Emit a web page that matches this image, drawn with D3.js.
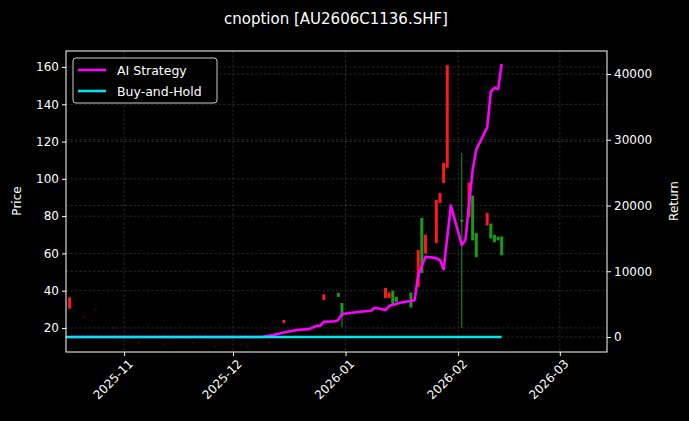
<!DOCTYPE html>
<html><head><meta charset="utf-8">
<script src="https://cdn.jsdelivr.net/npm/d3@7"></script>
<style>body{margin:0;background:#000}svg{font-family:"DejaVu Sans",sans-serif}</style>
</head><body><svg id="c" width="689" height="421"></svg>
<script>
// candles
const candleDates = ["2025-10-17","2025-12-15","2025-12-26","2025-12-30","2025-12-31","2026-01-12","2026-01-13","2026-01-14","2026-01-15","2026-01-19","2026-01-21","2026-01-22","2026-01-23","2026-01-26","2026-01-27","2026-01-28","2026-01-29","2026-02-02","2026-02-04","2026-02-05","2026-02-06","2026-02-09","2026-02-10","2026-02-11","2026-02-12","2026-02-13"];
const opens  = [30.4,22.7,35,38.8,33.4,36,36,40,36.7,39,42,79,60,65.6,87,97.8,106,78,79.6,91,71,75,76,70,69,69];
const closes = [36.4,24.3,38,36.7,26,41.5,39,33,34,31,61.8,49.5,70,88.7,92.4,108.5,161,77,98,67,58,81.6,68,66,67,59];
const highs  = [36.4,24.3,38,38.8,33.4,41.5,39,40,36.7,39,61.8,79,70,88.7,92.4,108.5,161,114,98,91,71,81.6,76,70,69,69];
const lows   = [30.4,22.7,35,36.7,20.5,36,36,33,34,31,42,49.5,60,65.6,87,97.8,106,20,79.6,67,58,75,68,66,67,59];
// faint small candles near the floor
const faintDates = ["2025-10-21","2025-10-24","2025-10-29","2025-11-05","2025-11-12","2025-11-20","2025-11-26","2025-12-03","2025-12-05","2025-12-11"];
const faintPrices = [26,30,20,12,11,12,10,11,10,12];
// strategy returns
const stratDates = ["2025-10-17","2025-12-09","2025-12-10","2025-12-12","2025-12-16","2025-12-19","2025-12-22","2025-12-24","2025-12-25","2025-12-26","2025-12-29","2025-12-30","2025-12-31","2026-01-05","2026-01-08","2026-01-09","2026-01-12","2026-01-13","2026-01-16","2026-01-20","2026-01-21","2026-01-23","2026-01-26","2026-01-27","2026-01-28","2026-01-30","2026-02-02","2026-02-03","2026-02-05","2026-02-06","2026-02-09","2026-02-10","2026-02-11","2026-02-12","2026-02-13"];
const stratValues = [0,0,100,300,800,1100,1200,1700,1700,2300,2400,2600,3500,3850,4000,4450,4100,4700,5200,5600,9400,12200,12000,11700,10300,20000,14000,14750,25400,28500,31900,37300,37900,37700,41500];
const holdDates = ["2025-10-16","2026-02-13"];
const holdValues = [0,0];
const priceTicks = [20,40,60,80,100,120,140,160];
const returnTicks = [0,10000,20000,30000,40000];
const monthTicks = ["2025-11-01","2025-12-01","2026-01-01","2026-02-01","2026-03-01"];

const P = d3.timeParse("%Y-%m-%d");
const svg = d3.select("#c");
const L = 66, R = 607, T = 51, B = 352;
const x = d3.scaleTime().domain([P("2025-10-16"), P("2026-03-14")]).range([L, R]);
const y = d3.scaleLinear().domain([7.1, 168.6]).range([B, T]);
const y2 = d3.scaleLinear().domain([-2280, 43500]).range([B, T]);

const grid = svg.append("g").attr("stroke", "#444").attr("stroke-width", 0.6).attr("stroke-dasharray", "2.5,2");
priceTicks.forEach(t => grid.append("line").attr("x1", L).attr("x2", R).attr("y1", y(t)).attr("y2", y(t)));
returnTicks.forEach(t => grid.append("line").attr("x1", L).attr("x2", R).attr("y1", y2(t)).attr("y2", y2(t)));
monthTicks.forEach(t => grid.append("line").attr("y1", T).attr("y2", B).attr("x1", x(P(t))).attr("x2", x(P(t))));

const cg = svg.append("g");
faintDates.forEach((d, i) => cg.append("rect").attr("x", x(P(d)) - 1.5).attr("width", 3)
  .attr("y", y(faintPrices[i]) - 1).attr("height", 2).attr("fill", "#a00").attr("opacity", 0.35));
candleDates.forEach((d, i) => {
  const cx = x(P(d)), col = closes[i] >= opens[i] ? "#ff1a1a" : "#1a9a1a";
  cg.append("line").attr("x1", cx).attr("x2", cx).attr("y1", y(highs[i])).attr("y2", y(lows[i])).attr("stroke", col).attr("stroke-width", 1);
  const top = y(Math.max(opens[i], closes[i])), bot = y(Math.min(opens[i], closes[i]));
  cg.append("rect").attr("x", cx - 1.5).attr("width", 3).attr("y", top).attr("height", Math.max(1, bot - top)).attr("fill", col);
});

const line = d3.line().x(d => x(P(d[0]))).y(d => y2(d[1]));
svg.append("path").attr("d", line(stratDates.map((d, i) => [d, stratValues[i]]))).attr("fill", "none").attr("stroke", "#ff00ff").attr("stroke-width", 2.6).attr("stroke-linejoin", "round");
svg.append("path").attr("d", line(holdDates.map((d, i) => [d, holdValues[i]]))).attr("fill", "none").attr("stroke", "#00e5ee").attr("stroke-width", 2.6);

svg.append("rect").attr("x", L).attr("y", T).attr("width", R - L).attr("height", B - T).attr("fill", "none").attr("stroke", "#fff").attr("stroke-width", 1);

const ax = svg.append("g").attr("transform", `translate(0,${B})`)
  .call(d3.axisBottom(x).tickValues(monthTicks.map(P)).tickFormat(d3.timeFormat("%Y-%m")).tickSize(4));
ax.selectAll("text").attr("transform", "rotate(-45)").attr("text-anchor", "end").attr("dx", "-0.2em").attr("dy", "0.7em");
const ay = svg.append("g").attr("transform", `translate(${L},0)`).call(d3.axisLeft(y).tickValues(priceTicks).tickSize(4));
const ay2 = svg.append("g").attr("transform", `translate(${R},0)`).call(d3.axisRight(y2).tickValues(returnTicks).tickFormat(d3.format("d")).tickSize(4));
[ax, ay, ay2].forEach(g => {
  g.select(".domain").remove();
  g.selectAll("line").attr("stroke", "#fff");
  g.selectAll("text").attr("fill", "#fff").attr("font-size", 12).attr("font-family", "DejaVu Sans");
});

svg.append("text").attr("x", 336).attr("y", 24).attr("text-anchor", "middle").attr("fill", "#fff").attr("font-size", 15).text("cnoption [AU2606C1136.SHF]");
svg.append("text").attr("transform", "translate(21,201) rotate(-90)").attr("text-anchor", "middle").attr("fill", "#fff").attr("font-size", 12).text("Price");
svg.append("text").attr("transform", "translate(678,201) rotate(-90)").attr("text-anchor", "middle").attr("fill", "#fff").attr("font-size", 12).text("Return");

const lg = svg.append("g");
lg.append("rect").attr("x", 73).attr("y", 58).attr("width", 144).attr("height", 45).attr("rx", 3).attr("fill", "#000").attr("stroke", "#ccc");
[["AI Strategy", "#ff00ff"], ["Buy-and-Hold", "#00e5ee"]].forEach((e, i) => {
  const yy = 70 + i * 21;
  lg.append("line").attr("x1", 78).attr("x2", 106).attr("y1", yy).attr("y2", yy).attr("stroke", e[1]).attr("stroke-width", 2.6);
  lg.append("text").attr("x", 117).attr("y", yy + 4.5).attr("fill", "#fff").attr("font-size", 12.5).text(e[0]);
});
</script></body></html>
